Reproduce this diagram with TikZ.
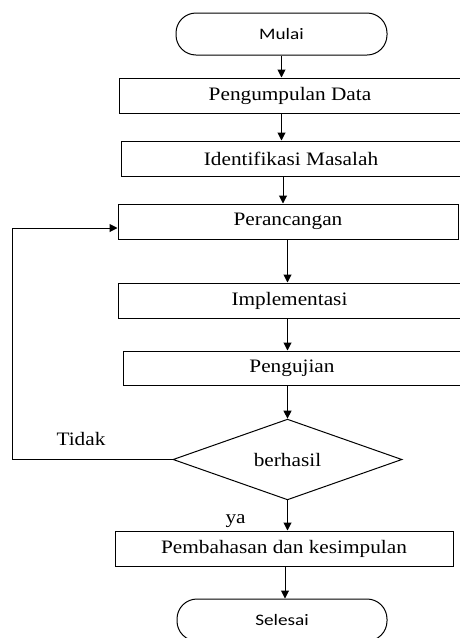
\documentclass[tikz,border=0pt]{standalone}
\usepackage{fontspec}
\setmainfont{Liberation Serif}[FakeStretch=1.12]
\newfontfamily\termfont{Carlito}[FakeStretch=1.2]
\usetikzlibrary{arrows.meta,shapes.geometric}

\begin{document}
\begin{tikzpicture}[x=1pt,y=-1pt,
	font=\fontsize{19}{22}\selectfont,
	box/.style={draw, line width=1pt, inner sep=0pt, minimum height=35pt},
	term/.style={draw, line width=1pt, rounded corners=20pt, minimum width=211pt, minimum height=42pt, font=\termfont\fontsize{16}{19}\selectfont},
	arr/.style={-{Triangle[length=8pt,width=8pt]}, line width=1pt}]
	\useasboundingbox (0,0) rectangle (459,638);

	\node[term] (mulai) at (281.5,34) {Mulai};
	\node[box, minimum width=342pt] (pd) at (290,95.5) {Pengumpulan Data};
	\node[box, minimum width=340pt] (im) at (291,158.5) {Identifikasi Masalah};
	\node[box, minimum width=340pt] (per) at (288,221.5) {Perancangan};
	\node[box, minimum width=343pt] (imp) at (289.5,300.5) {Implementasi};
	\node[box, minimum width=338pt, minimum height=34pt] (uji) at (292,368) {Pengujian};
	\node[box, diamond, minimum width=229pt, minimum height=75pt] (hasil) at (287.5,459.5) {berhasil};
	\node[box, minimum width=338pt] (bahas) at (284,548.5) {Pembahasan dan kesimpulan};
	\node[term, minimum width=210pt] (selesai) at (282,620) {Selesai};

	\coordinate (loop) at (12,228);
	\node[anchor=base west] (tidak) at (53,445) {Tidak};
	\node[anchor=base west] (ya) at (222,523) {ya};

	\draw[arr] (mulai.south) -- (mulai.south |- pd.north);
	\draw[arr] (mulai |- pd.south) -- (mulai |- im.north);
	\draw[arr] ([xshift=1.5pt]mulai |- im.south) -- ([xshift=1.5pt]mulai |- per.north);
	\draw[arr] (hasil |- per.south) -- (hasil |- imp.north);
	\draw[arr] (hasil |- imp.south) -- (hasil |- uji.north);
	\draw[arr] (hasil |- uji.south) -- (hasil.north);
	\draw[arr] (hasil.south) -- (hasil |- bahas.north);
	\draw[arr] ([xshift=3pt]selesai |- bahas.south) -- ([xshift=3pt]selesai.north);
	\draw[arr] (hasil.west) -| (loop) |- (per.west |- loop);
\end{tikzpicture}
\end{document}
